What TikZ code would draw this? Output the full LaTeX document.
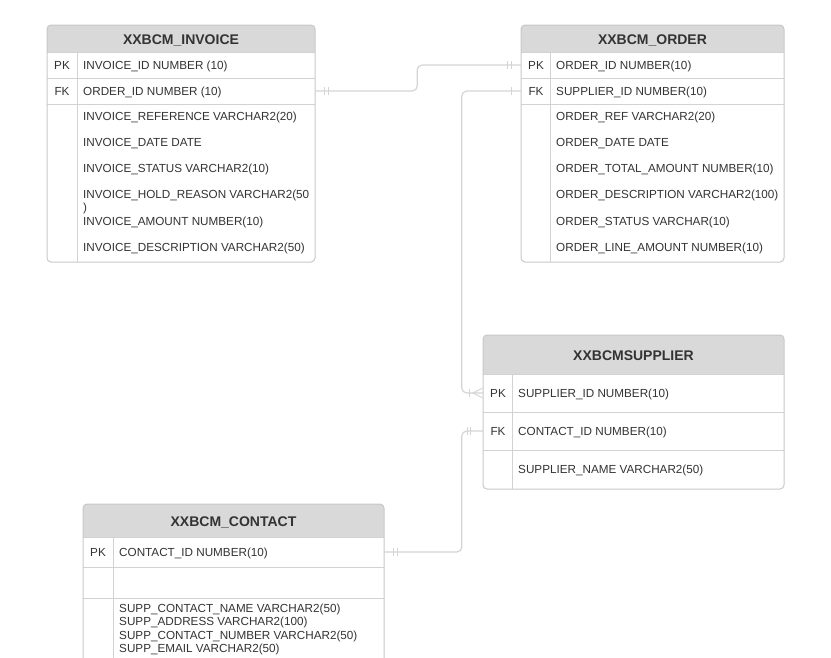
\documentclass[tikz,border=0pt]{standalone}
\usepackage{fontspec}
\setmainfont{Liberation Sans}
\definecolor{hdrfill}{HTML}{D9D9D9}
\definecolor{bordercol}{HTML}{C8C8C8}
\definecolor{sepcol}{HTML}{D2D2D2}
\definecolor{conncol}{HTML}{D4D4D4}
\definecolor{txtcol}{HTML}{333333}
\tikzset{
  tblframe/.style={draw=bordercol, line width=1pt, rounded corners=4pt},
  hdrshade/.style={fill=hdrfill},
  rowline/.style={draw=sepcol, line width=0.9pt},
  hdrtext/.style={font=\fontsize{14}{16}\selectfont\bfseries, text=txtcol, inner sep=0pt, text height=10pt, text depth=0pt},
  fieldtext/.style={font=\fontsize{11.7}{13.4}\selectfont, text=txtcol, anchor=west, inner sep=0pt, text height=8.4pt, text depth=0pt},
  keytext/.style={font=\fontsize{11.7}{13.4}\selectfont, text=txtcol, inner sep=0pt, text height=8.4pt, text depth=0pt},
  rowbox/.style={inner sep=0pt, draw=none},
  conn/.style={draw=conncol, line width=1.2pt, rounded corners=5pt},
  tickmark/.style={draw=conncol, line width=0.9pt}
}
\begin{document}
\begin{tikzpicture}[x=1pt,y=-1pt]
\useasboundingbox (0,0) rectangle (831,657);
\clip (0,0) rectangle (831,657);

% ---------- XXBCM_INVOICE ----------
\fill[hdrshade] (47,52) [rounded corners=4pt] -- (47,25) -- (315,25) [sharp corners] -- (315,52) -- cycle;
\draw[rowline] (47,52) -- (315,52) (47,78) -- (315,78) (47,104) -- (315,104) (77,52) -- (77,262);
\draw[tblframe] (47,25) rectangle (315,262);
\node[hdrtext] (invH) at (181,39) {XXBCM\_INVOICE};
\node[rowbox, minimum width=268pt, minimum height=26pt] (invPK) at (181,65) {};
\node[rowbox, minimum width=268pt, minimum height=26pt] (invFK) at (181,91) {};
\node[keytext] (invk1) at (62,65) {PK};
\node[keytext] (invk2) at (62,91) {FK};
\node[fieldtext] (invf1) at (83,65) {INVOICE\_ID NUMBER (10)};
\node[fieldtext] (invf2) at (83,91) {ORDER\_ID NUMBER (10)};
\node[fieldtext] (invf3) at (83,116) {INVOICE\_REFERENCE VARCHAR2(20)};
\node[fieldtext] (invf4) at (83,142) {INVOICE\_DATE DATE};
\node[fieldtext] (invf5) at (83,168) {INVOICE\_STATUS VARCHAR2(10)};
\node[fieldtext] (invf6) at (83,194) {INVOICE\_HOLD\_REASON VARCHAR2(50};
\node[fieldtext] (invf6b) at (83,207.5) {)};
\node[fieldtext] (invf7) at (83,221) {INVOICE\_AMOUNT NUMBER(10)};
\node[fieldtext] (invf8) at (83,247) {INVOICE\_DESCRIPTION VARCHAR2(50)};

% ---------- XXBCM_ORDER ----------
\fill[hdrshade] (521,52) [rounded corners=4pt] -- (521,25) -- (784,25) [sharp corners] -- (784,52) -- cycle;
\draw[rowline] (521,52) -- (784,52) (521,78) -- (784,78) (521,104) -- (784,104) (550,52) -- (550,262);
\draw[tblframe] (521,25) rectangle (784,262);
\node[hdrtext] (ordH) at (652.5,39) {XXBCM\_ORDER};
\node[rowbox, minimum width=263pt, minimum height=26pt] (ordPK) at (652.5,65) {};
\node[rowbox, minimum width=263pt, minimum height=26pt] (ordFK) at (652.5,91) {};
\node[keytext] (ordk1) at (536,65) {PK};
\node[keytext] (ordk2) at (536,91) {FK};
\node[fieldtext] (ordf1) at (556,65) {ORDER\_ID NUMBER(10)};
\node[fieldtext] (ordf2) at (556,91) {SUPPLIER\_ID NUMBER(10)};
\node[fieldtext] (ordf3) at (556,116) {ORDER\_REF VARCHAR2(20)};
\node[fieldtext] (ordf4) at (556,142) {ORDER\_DATE DATE};
\node[fieldtext] (ordf5) at (556,168) {ORDER\_TOTAL\_AMOUNT NUMBER(10)};
\node[fieldtext] (ordf6) at (556,194) {ORDER\_DESCRIPTION VARCHAR2(100)};
\node[fieldtext] (ordf7) at (556,221) {ORDER\_STATUS VARCHAR(10)};
\node[fieldtext] (ordf8) at (556,247) {ORDER\_LINE\_AMOUNT NUMBER(10)};

% ---------- XXBCMSUPPLIER ----------
\fill[hdrshade] (483,374) [rounded corners=4pt] -- (483,335) -- (784,335) [sharp corners] -- (784,374) -- cycle;
\draw[rowline] (483,374) -- (784,374) (483,412) -- (784,412) (483,450) -- (784,450) (512,374) -- (512,489);
\draw[tblframe] (483,335) rectangle (784,489);
\node[hdrtext] (supH) at (633.5,355) {XXBCMSUPPLIER};
\node[rowbox, minimum width=301pt, minimum height=38pt] (supPK) at (633.5,393) {};
\node[rowbox, minimum width=301pt, minimum height=38pt] (supFK) at (633.5,431) {};
\node[keytext] (supk1) at (498,393) {PK};
\node[keytext] (supk2) at (498,431) {FK};
\node[fieldtext] (supf1) at (518,393) {SUPPLIER\_ID NUMBER(10)};
\node[fieldtext] (supf2) at (518,431) {CONTACT\_ID NUMBER(10)};
\node[fieldtext] (supf3) at (518,469) {SUPPLIER\_NAME VARCHAR2(50)};

% ---------- XXBCM_CONTACT ----------
\fill[hdrshade] (83,537) [rounded corners=4pt] -- (83,504) -- (384,504) [sharp corners] -- (384,537) -- cycle;
\draw[rowline] (83,537) -- (384,537) (83,567) -- (384,567) (83,598) -- (384,598) (113,537) -- (113,690);
\draw[tblframe] (83,504) rectangle (384,690);
\node[hdrtext] (conH) at (233.5,521) {XXBCM\_CONTACT};
\node[rowbox, minimum width=301pt, minimum height=30pt] (conPK) at (233.5,552) {};
\node[keytext] (conk1) at (98,552) {PK};
\node[fieldtext] (conf1) at (119,552) {CONTACT\_ID NUMBER(10)};
\node[fieldtext] (conf2) at (119,608) {SUPP\_CONTACT\_NAME VARCHAR2(50)};
\node[fieldtext] (conf3) at (119,621.5) {SUPP\_ADDRESS VARCHAR2(100)};
\node[fieldtext] (conf4) at (119,635) {SUPP\_CONTACT\_NUMBER VARCHAR2(50)};
\node[fieldtext] (conf5) at (119,648.5) {SUPP\_EMAIL VARCHAR2(50)};

% ---------- connectors ----------
\draw[conn] (invFK.east) -- ++(102,0) |- (ordPK.west);
\draw[conn] (ordFK.west) -- ++(-59,0) |- (supPK.west);
\draw[conn] (supFK.west) -- ++(-21,0) |- (conPK.east);

% markers
\draw[tickmark] ([xshift=9pt]invFK.east) ++(0,-4) -- ++(0,8);
\draw[tickmark] ([xshift=13pt]invFK.east) ++(0,-4) -- ++(0,8);
\draw[tickmark] ([xshift=-13pt]ordPK.west) ++(0,-4) -- ++(0,8);
\draw[tickmark] ([xshift=-9pt]ordPK.west) ++(0,-4) -- ++(0,8);
\draw[tickmark] ([xshift=-9pt]ordFK.west) ++(0,-4) -- ++(0,8);
\draw[tickmark] ([xshift=-13pt]supPK.west) ++(0,-4) -- ++(0,8);
\draw[tickmark] ([yshift=5pt]supPK.west) -- ([xshift=-10pt]supPK.west) -- ([yshift=-5pt]supPK.west);
\draw[tickmark] ([xshift=-15pt]supFK.west) ++(0,-4) -- ++(0,8);
\draw[tickmark] ([xshift=-12pt]supFK.west) ++(0,-4) -- ++(0,8);
\draw[tickmark] ([xshift=9pt]conPK.east) ++(0,-4) -- ++(0,8);
\draw[tickmark] ([xshift=13pt]conPK.east) ++(0,-4) -- ++(0,8);
\end{tikzpicture}
\end{document}
